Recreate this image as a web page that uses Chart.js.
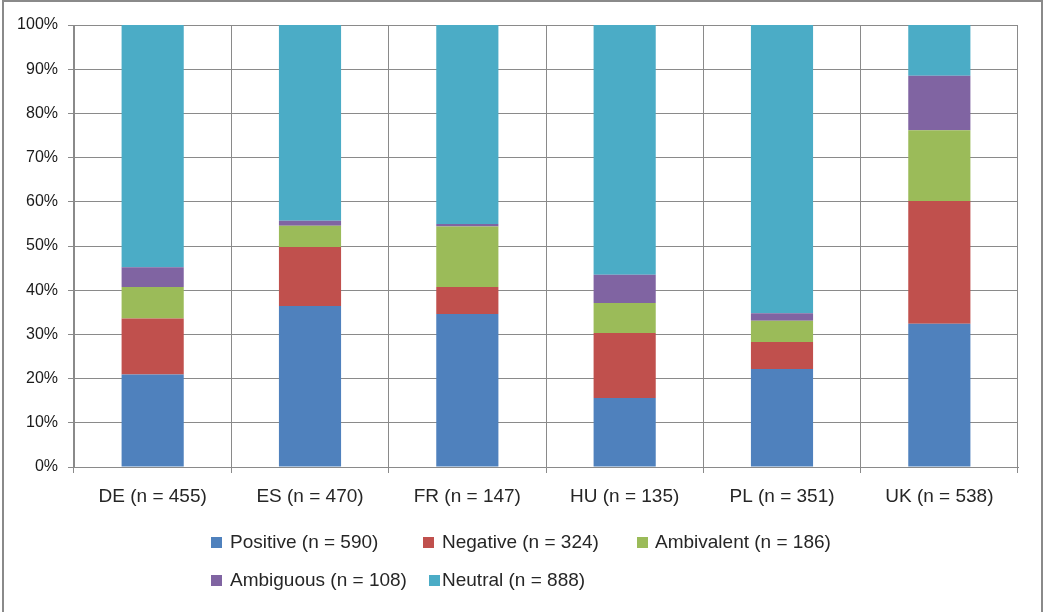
<!DOCTYPE html>
<html><head><meta charset="utf-8">
<script src="https://cdn.jsdelivr.net/npm/chart.js@4.4.0/dist/chart.umd.min.js"></script>
<style>
html,body{margin:0;padding:0;background:#fff;}
#wrap{position:relative;width:1043px;height:612px;overflow:hidden;}
#frame{position:absolute;left:2px;top:0px;width:1037px;height:620px;border:2px solid #8a8a8a;pointer-events:none;}
canvas{position:absolute;left:0;top:0;}
#legend{position:absolute;left:0;top:0;width:1043px;height:612px;font-family:"Liberation Sans",Arial,sans-serif;font-size:19px;color:#262626;pointer-events:none;}
.sw{position:absolute;width:11px;height:11px;}
.tx{position:absolute;white-space:nowrap;line-height:22px;}
</style></head>
<body><div id="wrap"><canvas id="c" width="1043" height="612"></canvas><div id="legend"></div><div id="frame"></div></div>
<script>
const categories = ["DE (n = 455)","ES (n = 470)","FR (n = 147)","HU (n = 135)","PL (n = 351)","UK (n = 538)"];
const seriesNames = ["Positive (n = 590)","Negative (n = 324)","Ambivalent (n = 186)","Ambiguous (n = 108)","Neutral (n = 888)"];
const positive   = [20.9, 36.4, 34.6, 15.6, 22.2, 32.4];
const negative   = [12.7, 13.4, 6.1, 14.7, 6.1, 27.8];
const ambivalent = [7.1, 4.8, 13.7, 6.8, 4.8, 16.0];
const ambiguous  = [4.5, 1.1, 0.6, 6.4, 1.7, 12.3];
const neutral    = [54.8, 44.3, 45.0, 56.5, 65.2, 11.5];
const colors = ["#4F81BD","#C0504D","#9BBB59","#8064A2","#4BACC6"];
const values = [positive, negative, ambivalent, ambiguous, neutral];

const fam = '"Liberation Sans",Arial,sans-serif';
const grid = '#8a8a8a';

new Chart(document.getElementById('c'), {
  type:'bar',
  data:{
    labels:categories,
    datasets: seriesNames.map((n,i)=>({label:n,data:values[i],backgroundColor:colors[i],borderWidth:0,barPercentage:0.395,categoryPercentage:1}))
  },
  options:{
    responsive:false, animation:false,
    layout:{padding:{left:0,top:25,right:25,bottom:0}},
    plugins:{legend:{display:false},tooltip:{enabled:false}},
    scales:{
      x:{stacked:true,
        grid:{color:grid,lineWidth:1,tickLength:6,offset:true,drawOnChartArea:true},
        border:{color:grid,width:1},
        ticks:{color:'#262626',font:{family:fam,size:19},padding:12,maxRotation:0},
        afterFit:s=>{s.height=145;}
      },
      y:{stacked:true,min:0,max:100,
        grid:{color:grid,lineWidth:1,tickLength:6},
        border:{color:grid,width:1},
        ticks:{stepSize:10,color:'#1a1a1a',font:{family:fam,size:16},padding:10,callback:v=>v+'%'},
        afterFit:s=>{s.width=74;}
      }
    }
  }
});

const leg = document.getElementById('legend');
// [swatch x, text x, row centre y]
const pos = [[211,230,542],[423,442,542],[637,655,542],[211,230,580],[429,442,580]];
seriesNames.forEach((n,i)=>{
  const s=document.createElement('div');s.className='sw';
  s.style.left=pos[i][0]+'px';s.style.top=(pos[i][2]-5)+'px';s.style.background=colors[i];
  const t=document.createElement('div');t.className='tx';
  t.style.left=pos[i][1]+'px';t.style.top=(pos[i][2]-11)+'px';t.textContent=n;
  leg.appendChild(s);leg.appendChild(t);
});
</script></body></html>
